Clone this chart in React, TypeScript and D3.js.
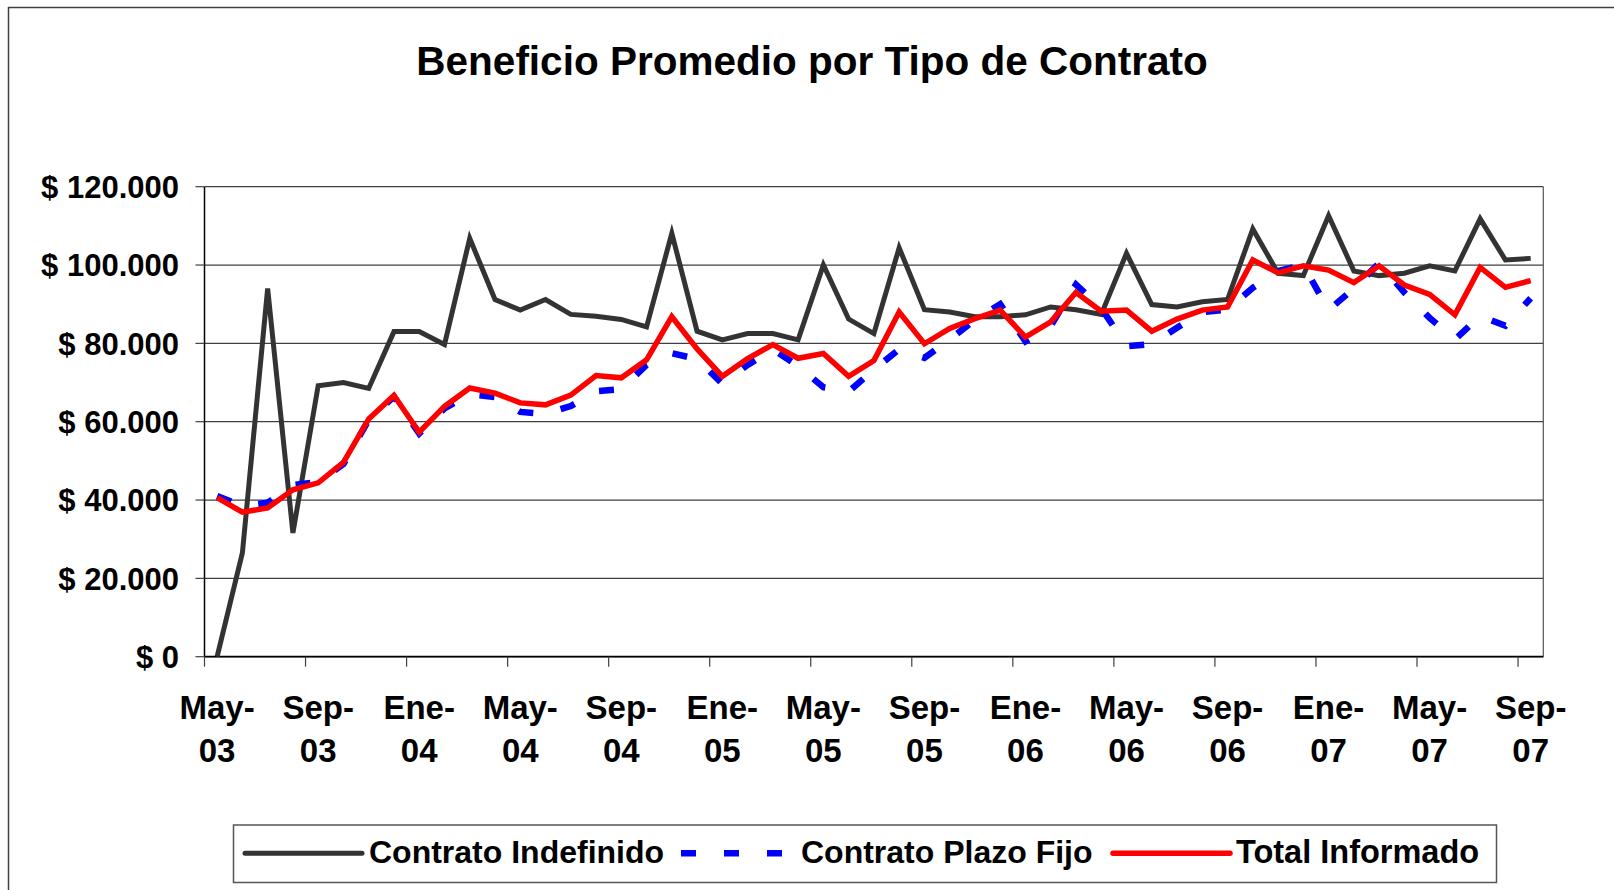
import React from 'react';
import * as d3 from 'd3';

// months May-03 .. Sep-07
const categories = [
  'May-03', 'Jun-03', 'Jul-03', 'Ago-03', 'Sep-03', 'Oct-03', 'Nov-03', 'Dic-03',
  'Ene-04', 'Feb-04', 'Mar-04', 'Abr-04', 'May-04', 'Jun-04', 'Jul-04', 'Ago-04',
  'Sep-04', 'Oct-04', 'Nov-04', 'Dic-04', 'Ene-05', 'Feb-05', 'Mar-05', 'Abr-05',
  'May-05', 'Jun-05', 'Jul-05', 'Ago-05', 'Sep-05', 'Oct-05', 'Nov-05', 'Dic-05',
  'Ene-06', 'Feb-06', 'Mar-06', 'Abr-06', 'May-06', 'Jun-06', 'Jul-06', 'Ago-06',
  'Sep-06', 'Oct-06', 'Nov-06', 'Dic-06', 'Ene-07', 'Feb-07', 'Mar-07', 'Abr-07',
  'May-07', 'Jun-07', 'Jul-07', 'Ago-07', 'Sep-07',
];

const indefinido = [
  0, 26500, 94000, 31600, 69200, 70000, 68500, 83000, 83000, 79700, 106800, 91200, 88500,
  91200, 87400, 86900, 86100, 84200, 108100, 83100, 80900, 82500, 82500, 80900, 100000,
  86200, 82500, 104400, 88600, 88000, 86800, 86800, 87300, 89300, 88600, 87400, 103000,
  89900, 89300, 90600, 91200, 109200, 97900, 97300, 112600, 98500, 97300, 97900, 99800,
  98500, 111800, 101300, 101700,
];

const plazoFijo = [
  41000, 38500, 39300, 43800, 44600, 49200, 60500, 66400, 57000, 63400, 67000, 66300, 62500,
  62000, 64000, 67800, 68300, 74500, 77500, 76000, 69700, 74500, 78500, 74200, 68800,
  67700, 73300, 78500, 76300, 81000, 86000, 90000, 80500, 84500, 95000, 89000, 79300,
  79800, 84000, 88000, 88600, 94200, 98500, 100000, 88500, 94000, 100500, 93000, 86500,
  81000, 87000, 84500, 91500,
];

const totalInformado = [
  40600, 36900, 38000, 42600, 44400, 49600, 60700, 66700, 57300, 63900, 68600, 67300, 64800,
  64300, 66800, 71800, 71200, 75800, 86800, 78600, 71600, 76100, 79700, 76200, 77400,
  71600, 75600, 88000, 79900, 83800, 86300, 88500, 81600, 85500, 93000, 88200, 88500,
  83100, 86200, 88500, 89300, 101300, 98000, 99800, 98700, 95500, 99800, 94900, 92500,
  87300, 99400, 94300, 96000,
];

const yTicks = [0, 20000, 40000, 60000, 80000, 100000, 120000];

const W = 1614;
const H = 890;
const FONT = "'Liberation Sans', Arial, Helvetica, sans-serif";

const fmtMoney = (v: number) => '$ ' + d3.format(',')(v).replace(/,/g, '.');

export default function App() {
  const left = 204.5, right = 1543.3, top = 186.7, bottom = 656.7;

  const x = d3.scaleBand<string>().domain(categories).range([left, right]).padding(0);
  const y = d3.scaleLinear().domain([0, 120000]).range([bottom, top]);
  const cx = (i: number) => (x(categories[i]) as number) + x.bandwidth() / 2;

  const line = d3.line<number>().x((_, i) => cx(i)).y(v => y(v));

  const tickIdx = categories.map((_, i) => i).filter(i => i % 4 === 0);

  return (
    <svg width={W} height={H} style={{ position: 'absolute', left: 0, top: 0, display: 'block' }}
      fontFamily={FONT} fontWeight="bold">
      {/* chart area frame */}
      <rect x={8.5} y={7.5} width={1700} height={1000} fill="#fff" stroke="#404040" strokeWidth={1.5} />

      <text x={812} y={75} textAnchor="middle" fontSize={40.5}>Beneficio Promedio por Tipo de Contrato</text>

      {/* grid */}
      {yTicks.map(t => (
        <line key={t} x1={left} x2={right} y1={y(t)} y2={y(t)} stroke="#404040" strokeWidth={1.2} />
      ))}
      <line x1={right} x2={right} y1={top} y2={bottom} stroke="#555" strokeWidth={1.2} />

      {/* axes */}
      <line x1={left} x2={left} y1={top} y2={bottom} stroke="#000" strokeWidth={1.5} />
      <line x1={left} x2={right} y1={bottom} y2={bottom} stroke="#000" strokeWidth={1.8} />
      {yTicks.map(t => (
        <g key={'yt' + t}>
          <line x1={left - 9} x2={left} y1={y(t)} y2={y(t)} stroke="#404040" strokeWidth={1.2} />
          <text x={179} y={y(t)} dy="0.36em" textAnchor="end" fontSize={31}>{fmtMoney(t)}</text>
        </g>
      ))}
      {tickIdx.map(i => (
        <line key={'xt' + i} x1={x(categories[i])} x2={x(categories[i])} y1={bottom} y2={bottom + 10}
          stroke="#404040" strokeWidth={1.2} />
      ))}
      {tickIdx.map(i => {
        const [m, yy] = categories[i].split('-');
        return (
          <text key={'xl' + i} x={cx(i)} textAnchor="middle" fontSize={33}>
            <tspan x={cx(i)} y={719}>{m + '-'}</tspan>
            <tspan x={cx(i)} y={762}>{yy}</tspan>
          </text>
        );
      })}

      {/* series */}
      <path d={line(indefinido) as string} fill="none" stroke="#333333" strokeWidth={5} />
      <path d={line(plazoFijo) as string} fill="none" stroke="#0000ff" strokeWidth={6.5} strokeDasharray="15 28" />
      <path d={line(totalInformado) as string} fill="none" stroke="#ff0000" strokeWidth={5.5} />

      {/* legend */}
      <rect x={233.5} y={825} width={1263} height={57.5} fill="#fff" stroke="#555" strokeWidth={1.5} />
      <line x1={245} x2={362} y1={853.3} y2={853.3} stroke="#333333" strokeWidth={5} strokeLinecap="round" />
      <text x={369} y={863} fontSize={32}>Contrato Indefinido</text>
      <line x1={681} x2={790} y1={853.3} y2={853.3} stroke="#0000ff" strokeWidth={6.5} strokeDasharray="15 28" />
      <text x={801} y={863} fontSize={32}>Contrato Plazo Fijo</text>
      <line x1={1113} x2={1230} y1={853.3} y2={853.3} stroke="#ff0000" strokeWidth={5.5} strokeLinecap="round" />
      <text x={1236} y={863} fontSize={32.5}>Total Informado</text>
    </svg>
  );
}
